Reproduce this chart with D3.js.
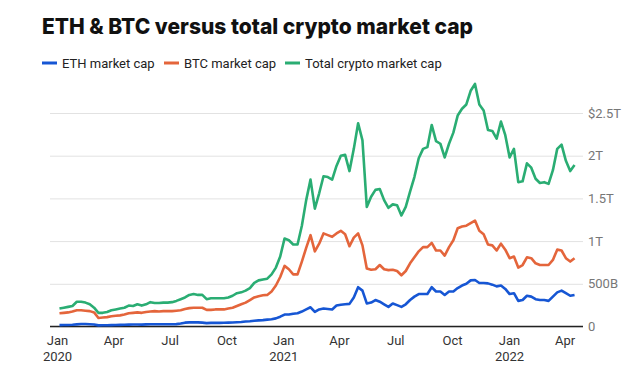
<!DOCTYPE html>
<html>
<head>
<meta charset="utf-8">
<script src="https://cdn.jsdelivr.net/npm/d3@7"></script>
<style>
  body { margin: 0; background: #fff; font-family: Roboto, "Noto Sans", sans-serif; }
  svg { display: block; }
</style>
</head>
<body>
<svg id="chart" width="626" height="376"></svg>
<script>
// weekly observations, first one on 5 Jan 2020 (values in $ trillions)
const firstWeek = new Date(2020, 0, 5);

const ethCap = [
  0.016, 0.017, 0.018, 0.02, 0.025, 0.029, 0.03, 0.027, 0.024, 0.013,
  0.014, 0.015, 0.016, 0.017, 0.019, 0.02, 0.022, 0.023, 0.023, 0.022,
  0.025, 0.026, 0.026, 0.026, 0.027, 0.026, 0.027, 0.028, 0.035, 0.045,
  0.048, 0.05, 0.048, 0.045, 0.04, 0.042, 0.042, 0.043, 0.044, 0.045,
  0.047, 0.05, 0.053, 0.058, 0.062, 0.068, 0.072, 0.075, 0.08, 0.085,
  0.095, 0.115, 0.14, 0.14, 0.15, 0.155, 0.175, 0.2, 0.225, 0.17,
  0.2, 0.21, 0.205, 0.2, 0.245, 0.255, 0.26, 0.265, 0.34, 0.46,
  0.42, 0.27, 0.28, 0.31, 0.29, 0.26, 0.23, 0.27, 0.25, 0.23,
  0.26, 0.31, 0.35, 0.38, 0.38, 0.38, 0.46, 0.41, 0.41, 0.37,
  0.41, 0.41, 0.45, 0.48, 0.5, 0.54, 0.545, 0.51, 0.51, 0.505,
  0.49, 0.47, 0.48, 0.44, 0.38, 0.39, 0.3, 0.31, 0.36, 0.35,
  0.32, 0.31, 0.31, 0.3, 0.35, 0.4, 0.42, 0.39, 0.36, 0.37
];

const btcCap = [
  0.155, 0.16, 0.165, 0.175, 0.19, 0.19, 0.185, 0.18, 0.165, 0.1,
  0.105, 0.11, 0.12, 0.125, 0.13, 0.14, 0.155, 0.16, 0.165, 0.16,
  0.17, 0.175, 0.18, 0.175, 0.18, 0.18, 0.18, 0.185, 0.19, 0.205,
  0.215, 0.22, 0.22, 0.22, 0.195, 0.195, 0.2, 0.2, 0.2, 0.21,
  0.22, 0.24, 0.26, 0.28, 0.31, 0.34, 0.355, 0.365, 0.37, 0.41,
  0.48, 0.58, 0.71, 0.67, 0.61, 0.61, 0.76, 0.92, 1.07, 0.88,
  0.97, 1.09, 1.07, 1.05, 1.09, 1.12, 1.08, 0.94, 1.04, 1.09,
  0.95, 0.68, 0.665, 0.67, 0.72, 0.67, 0.66, 0.665, 0.65, 0.6,
  0.65, 0.74, 0.81, 0.88, 0.93, 0.93, 0.98, 0.89, 0.89, 0.83,
  0.93, 1.01, 1.15, 1.17, 1.18, 1.21, 1.24, 1.12, 1.08, 0.96,
  0.95, 0.89, 0.97, 0.9, 0.8, 0.82, 0.69, 0.72, 0.81, 0.8,
  0.74, 0.72, 0.72, 0.72, 0.78, 0.9, 0.89, 0.8, 0.76, 0.8
];

const totalCap = [
  0.21, 0.22, 0.23, 0.24, 0.29, 0.29, 0.28, 0.26, 0.22, 0.16,
  0.16, 0.17, 0.19, 0.2, 0.21, 0.22, 0.245, 0.24, 0.26, 0.245,
  0.26, 0.285, 0.275, 0.275, 0.28, 0.28, 0.285, 0.3, 0.32, 0.34,
  0.37, 0.38, 0.37, 0.37, 0.32, 0.33, 0.33, 0.33, 0.33, 0.34,
  0.36, 0.39, 0.4, 0.42, 0.45, 0.51, 0.54, 0.55, 0.56, 0.61,
  0.69, 0.82, 1.03, 1.01, 0.96, 0.96, 1.18, 1.48, 1.72, 1.38,
  1.56, 1.76, 1.75, 1.72, 1.88, 2.0, 2.01, 1.82, 2.08, 2.38,
  2.18, 1.4, 1.52, 1.6, 1.61, 1.48, 1.39, 1.43, 1.42, 1.3,
  1.4, 1.58, 1.75, 1.97, 2.08, 2.1, 2.36, 2.17, 2.14, 1.98,
  2.14, 2.27, 2.47, 2.55, 2.6, 2.76, 2.84, 2.6, 2.53, 2.3,
  2.29, 2.2, 2.4, 2.24, 1.98, 2.08, 1.69, 1.7, 1.91, 1.86,
  1.73, 1.68, 1.69, 1.67, 1.83, 2.08, 2.13, 1.94, 1.82, 1.89
];

const seriesNames = ["ETH market cap", "BTC market cap", "Total crypto market cap"];
const seriesColors = ["#1656d4", "#e4653b", "#2aad73"];

const yTicks = [0, 0.5, 1, 1.5, 2, 2.5];
const yTickLabels = ["0", "500B", "1T", "1.5T", "2T", "$2.5T"];

const xTickDates = [
  new Date(2020, 0, 1), new Date(2020, 3, 1), new Date(2020, 6, 1), new Date(2020, 9, 1),
  new Date(2021, 0, 1), new Date(2021, 3, 1), new Date(2021, 6, 1), new Date(2021, 9, 1),
  new Date(2022, 0, 1), new Date(2022, 3, 1)
];
const xTickLabels = [
  ["Jan", "2020"], ["Apr"], ["Jul"], ["Oct"],
  ["Jan", "2021"], ["Apr"], ["Jul"], ["Oct"],
  ["Jan", "2022"], ["Apr"]
];

const title = "ETH & BTC versus total crypto market cap";

function drawChart() {
  const svg = d3.select("#chart");

  const plotLeft = 50;
  const plotRight = 583;
  const plotTop = 113;
  const plotBottom = 326.5;

  const x = d3.scaleTime()
    .domain([new Date(2020, 0, 1), new Date(2022, 0, 1)])
    .range([57, 509]);

  const y = d3.scaleLinear().domain([0, 2.5]).range([plotBottom, plotTop]);

  // title
  svg.append("text")
    .attr("x", 42)
    .attr("y", 34)
    .attr("font-family", "Inter, Roboto, sans-serif")
    .attr("font-weight", 800)
    .attr("font-size", "22px")
    .attr("fill", "#111")
    .attr("textLength", 431)
    .attr("lengthAdjust", "spacingAndGlyphs")
    .text(title);

  // legend
  const legendX = [42, 164, 285];
  const legend = svg.append("g");
  seriesNames.forEach((name, i) => {
    legend.append("line")
      .attr("x1", legendX[i]).attr("x2", legendX[i] + 15)
      .attr("y1", 63).attr("y2", 63)
      .attr("stroke", seriesColors[i])
      .attr("stroke-width", 3);
    legend.append("text")
      .attr("x", legendX[i] + 20)
      .attr("y", 67.5)
      .attr("font-size", "13px")
      .attr("fill", "#222")
      .text(name);
  });

  // right axis + gridlines
  const yAxis = svg.append("g")
    .attr("transform", "translate(" + plotRight + ",0)")
    .call(d3.axisRight(y)
      .tickValues(yTicks)
      .tickSize(-(plotRight - plotLeft))
      .tickPadding(5)
      .tickFormat((d, i) => yTickLabels[i]));
  yAxis.select(".domain").remove();
  yAxis.selectAll(".tick line").attr("stroke", "#e2e2e2").attr("stroke-width", 1);
  yAxis.selectAll(".tick text")
    .attr("fill", "#777")
    .attr("font-size", "13px")
    .attr("font-family", "Roboto, sans-serif");

  // bottom axis
  const xAxis = svg.append("g")
    .attr("transform", "translate(0," + plotBottom + ")")
    .call(d3.axisBottom(x).tickValues(xTickDates).tickSize(0).tickFormat(""));
  xAxis.select(".domain").remove();
  xAxis.selectAll(".tick").each(function (d, i) {
    const t = d3.select(this).append("text")
      .attr("fill", "#333")
      .attr("font-size", "13px")
      .attr("font-family", "Roboto, sans-serif")
      .attr("text-anchor", "middle");
    xTickLabels[i].forEach((line, k) => {
      t.append("tspan").attr("x", 0).attr("y", 18 + k * 16.5).text(line);
    });
  });

  svg.append("line")
    .attr("x1", plotLeft).attr("x2", plotRight)
    .attr("y1", plotBottom).attr("y2", plotBottom)
    .attr("stroke", "#222")
    .attr("stroke-width", 1.3);

  // lines
  const line = d3.line()
    .x((d, i) => x(d3.timeDay.offset(firstWeek, 7 * i)))
    .y((d) => y(d))
    .curve(d3.curveLinear);

  [ethCap, btcCap, totalCap].forEach((vals, i) => {
    svg.append("path")
      .datum(vals)
      .attr("fill", "none")
      .attr("stroke", seriesColors[i])
      .attr("stroke-width", 2.6)
      .attr("stroke-linejoin", "round")
      .attr("d", line);
  });
}

drawChart();
</script>
</body>
</html>
